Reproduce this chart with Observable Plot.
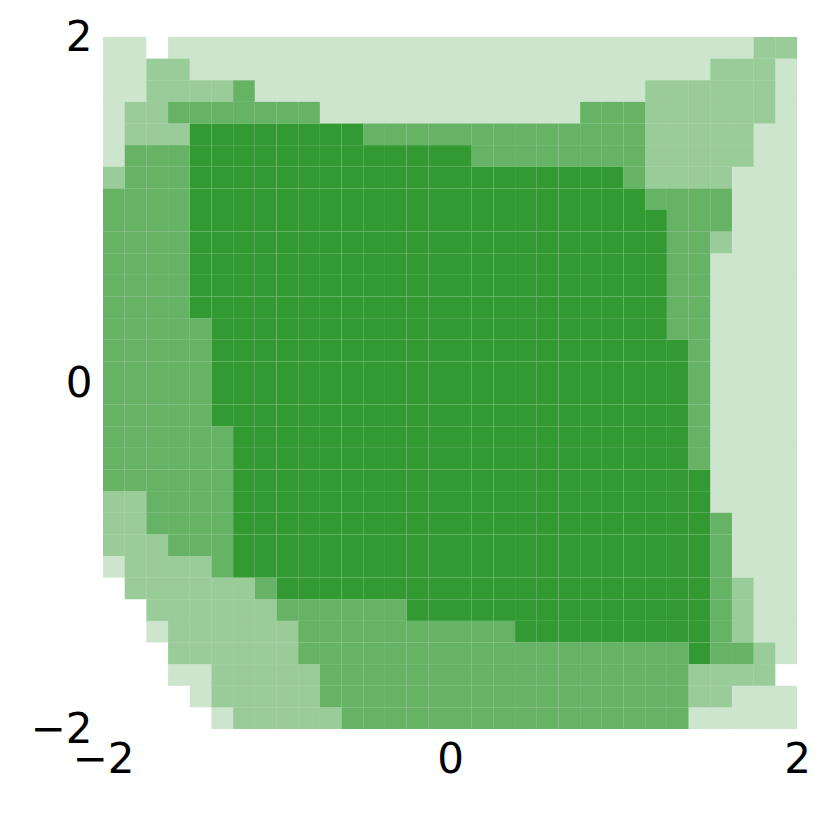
<!DOCTYPE html>
<html>
<head>
<meta charset="utf-8">
<script src="https://cdn.jsdelivr.net/npm/d3@7"></script>
<script src="https://cdn.jsdelivr.net/npm/@observablehq/plot@0.6"></script>
<style>
  html, body { margin: 0; padding: 0; background: #fff; }
  #chart { width: 830px; height: 830px; }
</style>
</head>
<body>
<div id="chart"></div>
<script>
// Grid definition (x and y from -2 to 2, 32 x 32 cells)
const xDomain = [-2, 2];
const yDomain = [-2, 2];
const cellSize = 0.125;
const xTicks = [-2, 0, 2];
const yTicks = [-2, 0, 2];

// Shading level of each cell (0 = empty … 4 = full), rows from top (y = 2) to bottom (y = -2)
const levelRows = [
  "11011111 11111111 11111111 11111122",
  "11221111 11111111 11111111 11112221",
  "11222231 11111111 11111111 12222221",
  "12233333 33111111 11111133 32222221",
  "12224444 44443333 33333333 32222211",
  "13334444 44444444 43333333 32222211",
  "23334444 44444444 44444444 32222111",
  "33334444 44444444 44444444 43333111",
  "33334444 44444444 44444444 44333111",
  "33334444 44444444 44444444 44332111",
  "33334444 44444444 44444444 44331111",
  "33334444 44444444 44444444 44331111",
  "33334444 44444444 44444444 44331111",
  "33333444 44444444 44444444 44331111",
  "33333444 44444444 44444444 44431111",
  "33333444 44444444 44444444 44431111",
  "33333444 44444444 44444444 44431111",
  "33333444 44444444 44444444 44431111",
  "33333344 44444444 44444444 44431111",
  "33333344 44444444 44444444 44431111",
  "33333344 44444444 44444444 44441111",
  "22333344 44444444 44444444 44441111",
  "22333344 44444444 44444444 44443111",
  "22233344 44444444 44444444 44443111",
  "12222344 44444444 44444444 44443111",
  "02222223 44444444 44444444 44443211",
  "00222222 33333344 44444444 44443211",
  "00122222 23333333 33344444 44443211",
  "00022222 23333333 33333333 33343321",
  "00011222 22333333 33333333 33322220",
  "00001222 22333333 33333333 33322111",
  "00000122 22233333 33333333 33311111"
];

const levelOpacity = [0, 0.25, 0.5, 0.75, 1];
const fillColor = "#339933";

// Build cell table from the grid
const cells = [];
levelRows.forEach((row, j) => {
  const chars = row.replace(/\s+/g, "");
  for (let i = 0; i < chars.length; i++) {
    const level = +chars[i];
    if (level === 0) continue;
    cells.push({
      x1: xDomain[0] + i * cellSize,
      x2: xDomain[0] + (i + 1) * cellSize,
      y1: yDomain[1] - (j + 1) * cellSize,
      y2: yDomain[1] - j * cellSize,
      level
    });
  }
});

const fmt = d => (d < 0 ? "\u2212" + Math.abs(d) : String(d));

const chart = Plot.plot({
  width: 830,
  height: 830,
  marginLeft: 103,
  marginRight: 33,
  marginTop: 37,
  marginBottom: 101,
  style: { fontFamily: "DejaVu Sans", fontSize: "42px", color: "#000", background: "#fff" },
  x: { domain: xDomain, ticks: xTicks, tickSize: 0, tickPadding: 14, tickFormat: fmt, label: null },
  y: { domain: yDomain, ticks: yTicks, tickSize: 0, tickPadding: 11, tickFormat: fmt, label: null },
  marks: [
    Plot.rect(cells, {
      x1: "x1", x2: "x2", y1: "y1", y2: "y2",
      fill: fillColor,
      fillOpacity: d => levelOpacity[d.level],
      inset: 0
    })
  ]
});
document.getElementById("chart").appendChild(chart);
</script>
</body>
</html>
